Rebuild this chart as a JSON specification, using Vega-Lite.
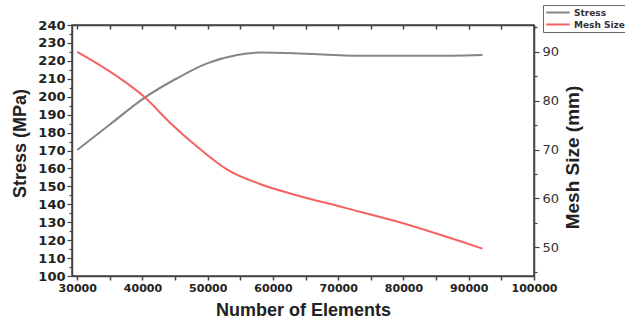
{
  "$schema": "https://vega.github.io/schema/vega-lite/v6.json",
  "autosize": {"type": "none"},
  "width": 462,
  "height": 251,
  "padding": {"left": 72, "top": 25, "right": 91, "bottom": 54},
  "background": "white",
  "config": {
    "view": {"stroke": "#444", "strokeWidth": 1.5},
    "axis": {
      "domainColor": "#444",
      "domainWidth": 1.5,
      "tickColor": "#444",
      "grid": false,
      "labelFont": "DejaVu Sans",
      "labelFontWeight": "bold",
      "labelColor": "#222",
      "titleFont": "Liberation Sans",
      "titleFontWeight": "bold",
      "titleColor": "#222"
    }
  },
  "datasets": {
    "stress": [
      {"elements": 30000, "stress": 170.3, "series": "Stress"},
      {"elements": 35000, "stress": 184.5, "series": "Stress"},
      {"elements": 40180, "stress": 199.1, "series": "Stress"},
      {"elements": 45300, "stress": 210.3, "series": "Stress"},
      {"elements": 49900, "stress": 218.6, "series": "Stress"},
      {"elements": 54500, "stress": 223.3, "series": "Stress"},
      {"elements": 58100, "stress": 224.6, "series": "Stress"},
      {"elements": 63200, "stress": 224.3, "series": "Stress"},
      {"elements": 73400, "stress": 222.8, "series": "Stress"},
      {"elements": 83700, "stress": 222.8, "series": "Stress"},
      {"elements": 92100, "stress": 223.3, "series": "Stress"}
    ],
    "mesh": [
      {"elements": 30000, "mesh": 90.0, "series": "Mesh Size"},
      {"elements": 36100, "mesh": 85.0, "series": "Mesh Size"},
      {"elements": 40180, "mesh": 80.9, "series": "Mesh Size"},
      {"elements": 44300, "mesh": 75.4, "series": "Mesh Size"},
      {"elements": 48900, "mesh": 70.0, "series": "Mesh Size"},
      {"elements": 53000, "mesh": 65.9, "series": "Mesh Size"},
      {"elements": 58100, "mesh": 62.9, "series": "Mesh Size"},
      {"elements": 63200, "mesh": 60.8, "series": "Mesh Size"},
      {"elements": 70900, "mesh": 58.1, "series": "Mesh Size"},
      {"elements": 78600, "mesh": 55.4, "series": "Mesh Size"},
      {"elements": 92100, "mesh": 49.7, "series": "Mesh Size"}
    ]
  },
  "layer": [
    {
      "data": {"name": "stress"},
      "mark": {"type": "line", "interpolate": "monotone", "strokeWidth": 2},
      "encoding": {
        "x": {
          "field": "elements", "type": "quantitative",
          "scale": {"domain": [29200, 100000], "nice": false, "zero": false},
          "axis": {
            "orient": "bottom",
            "title": "Number of Elements",
            "titleFontSize": 18,
            "titlePadding": 8,
            "values": [30000, 35000, 40000, 45000, 50000, 55000, 60000, 65000, 70000, 75000, 80000, 85000, 90000, 95000, 100000],
            "format": "d",
            "labelExpr": "datum.value % 10000 === 0 ? datum.label : ''",
            "labelFontSize": 11,
            "labelPadding": 2,
            "labelFlush": false,
            "tickSize": 4,
            "tickWidth": 1.5
          }
        },
        "y": {
          "field": "stress", "type": "quantitative",
          "scale": {"domain": [100, 240], "nice": false, "zero": false},
          "axis": {
            "orient": "left",
            "title": "Stress (MPa)",
            "titleFontSize": 18,
            "titlePadding": 8,
            "titleY": 118,
            "values": [100, 105, 110, 115, 120, 125, 130, 135, 140, 145, 150, 155, 160, 165, 170, 175, 180, 185, 190, 195, 200, 205, 210, 215, 220, 225, 230, 235, 240],
            "labelExpr": "datum.value % 10 === 0 ? datum.label : ''",
            "labelFontSize": 13,
            "labelPadding": 2,
            "labelFlush": false,
            "tickSize": {"condition": {"test": "datum.value % 10 === 0", "value": 5}, "value": 3},
            "tickWidth": 1.2
          }
        },
        "color": {
          "field": "series", "type": "nominal",
          "scale": {"domain": ["Stress", "Mesh Size"], "range": ["#858585", "#f46262"]},
          "legend": {
            "orient": "none",
            "legendX": 471,
            "legendY": -20,
            "title": null,
            "strokeColor": "#666",
            "fillColor": "white",
            "padding": 2,
            "symbolType": "stroke",
            "symbolStrokeWidth": 2,
            "symbolSize": 550,
            "clipHeight": 11,
            "labelFont": "DejaVu Sans",
            "labelFontSize": 9,
            "labelFontWeight": "bold",
            "labelColor": "#333",
            "rowPadding": 1,
            "labelOffset": 3
          }
        }
      }
    },
    {
      "data": {"name": "mesh"},
      "mark": {"type": "line", "interpolate": "monotone", "strokeWidth": 2},
      "encoding": {
        "x": {
          "field": "elements", "type": "quantitative",
          "axis": {
            "orient": "top",
            "title": null,
            "labels": false,
            "values": [30000, 35000, 40000, 45000, 50000, 55000, 60000, 65000, 70000, 75000, 80000, 85000, 90000, 95000, 100000],
            "tickSize": -4,
            "tickWidth": 1.5
          }
        },
        "y": {
          "field": "mesh", "type": "quantitative",
          "scale": {"domain": [44.1, 95.5], "nice": false, "zero": false},
          "axis": {
            "orient": "right",
            "title": "Mesh Size (mm)",
            "titleAngle": 270,
            "titleBaseline": "top",
            "titleFontSize": 19,
            "titlePadding": 5,
            "titleY": 132,
            "values": [45, 50, 55, 60, 65, 70, 75, 80, 85, 90, 95],
            "labelExpr": "datum.value % 10 === 0 ? datum.label : ''",
            "labelFontSize": 13,
            "labelFontWeight": "normal",
            "labelColor": "#333",
            "labelPadding": 3,
            "labelFlush": false,
            "tickSize": {"condition": {"test": "datum.value % 10 === 0", "value": 5}, "value": 3},
            "tickWidth": 1.2
          }
        },
        "color": {"field": "series", "type": "nominal"}
      }
    }
  ],
  "resolve": {"scale": {"y": "independent"}, "axis": {"x": "independent"}}
}
